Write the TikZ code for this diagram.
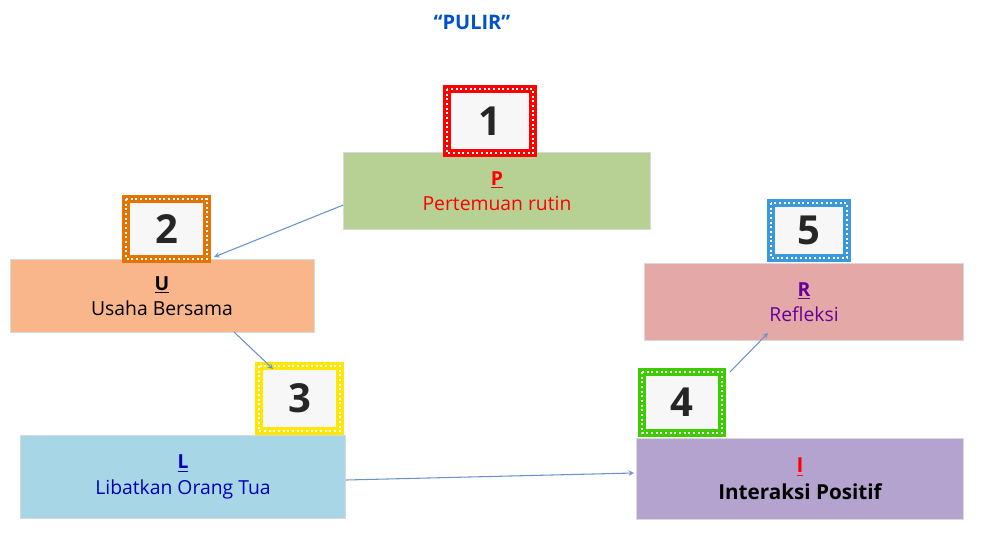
\documentclass[tikz,border=0pt]{standalone}
\usepackage{fontspec}
\setmainfont{Open Sans}
\begin{document}
\begin{tikzpicture}[x=0.75pt,y=-0.75pt,
 box/.style={draw=white!85!black,line width=0.6pt,inner sep=0pt,align=center,font=\fontsize{14.5}{19}\selectfont},
 num/.style={fill=gray!6,inner sep=0pt,font=\fontsize{30}{30}\selectfont\bfseries,text=black!85},
 arr/.style={->,>=stealth,draw=arrc,line width=0.8pt}]
\useasboundingbox (0,0) rectangle (1000,539);
\definecolor{gP}{HTML}{B7D194}\definecolor{oU}{HTML}{F8B68A}\definecolor{bL}{HTML}{A7D6E6}
\definecolor{pI}{HTML}{B5A3CF}\definecolor{rR}{HTML}{E4A9A7}\definecolor{arrc}{HTML}{6A93CC}
\newcommand{\numbox}[6]{%
 \fill[gray!6] (#1,#2) rectangle (#3,#4);
 \draw[#5,line width=6pt] (#1,#2) rectangle (#3,#4);
 \draw[white,line width=1.5pt,dotted] (#1,#2) rectangle (#3,#4);
 \node[num] at ({(#1+#3)/2},{(#2+#4)/2}) {#6};}
\node[text=blue!60!cyan!80!black,font=\fontsize{15}{15}\selectfont\bfseries] (title) at (472,22) {“PULIR”};
\node[box,fill=gP,minimum width=230pt,minimum height=58pt,text=red] (P) at (497,191) {\textbf{\underline{P}}\\Pertemuan rutin};
\node[box,fill=oU,minimum width=228pt,minimum height=55pt] (U) at (162,296) {\textbf{\underline{U}}\\Usaha Bersama};
\node[box,fill=bL,minimum width=244pt,minimum height=62pt,text=blue!70!black] (L) at (183,477) {\textbf{\underline{L}}\\Libatkan Orang Tua};
\node[box,fill=pI,minimum width=245pt,minimum height=61pt,font=\fontsize{15.5}{20}\selectfont\bfseries] (I) at (800,479) {\textcolor{red}{\underline{I}}\\Interaksi Positif};
\node[box,fill=rR,minimum width=239pt,minimum height=58pt,text=violet!80!blue] (R) at (804,302) {\textbf{\underline{R}}\\Refleksi};
\numbox{447}{89}{533}{153}{red}{1}
\numbox{126}{199}{207}{259}{orange!90!black}{2}
\numbox{259}{366}{340}{431}{yellow!90!orange}{3}
\numbox{642}{372}{722}{433}{green!60!lime!80!black}{4}
\numbox{771}{203}{847}{258}{cyan!70!blue!80}{5}
\coordinate (a1) at (214,257); \coordinate (a2) at (273,369);
\coordinate (a3) at (634,473); \coordinate (a4) at (768,333);
\draw[arr] (P.west|-0,205) -- (a1);
\draw[arr] (234,332) -- (a2);
\draw[arr] (L.east|-0,480) -- (a3);
\draw[arr] (730,372) -- (a4);
\end{tikzpicture}
\end{document}
